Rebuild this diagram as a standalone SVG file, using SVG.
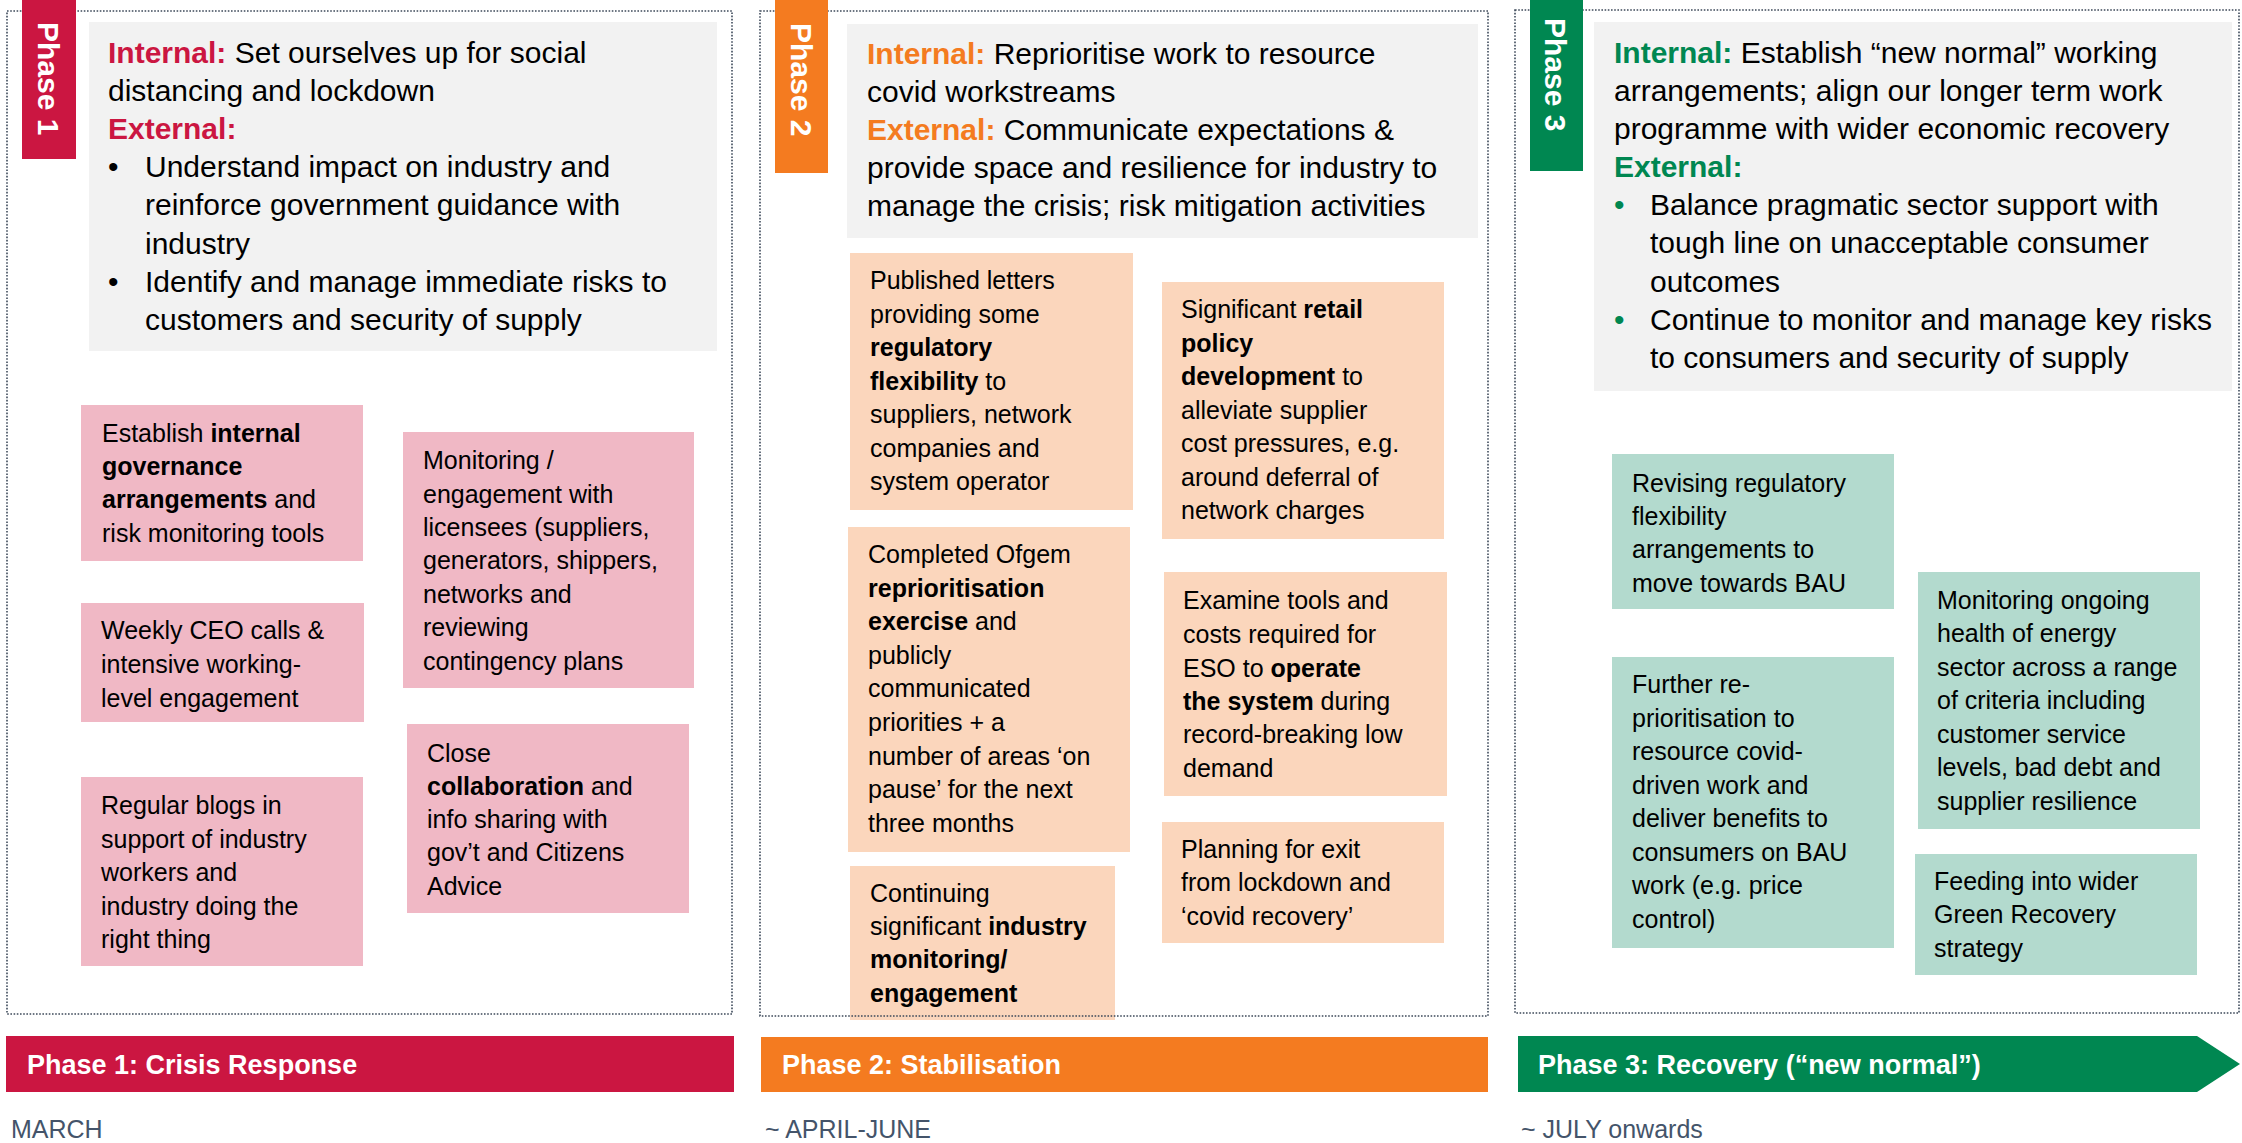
<svg xmlns="http://www.w3.org/2000/svg" width="2242" height="1143" viewBox="0 0 2242 1143">
<style>
text{font-family:"Liberation Sans",Arial,sans-serif;fill:#000}
.gt{font-size:30px}
.bt{font-size:25px}
.b{font-weight:bold}
.k1{font-weight:bold;fill:#CB1641}
.k2{font-weight:bold;fill:#F47B20}
.k3{font-weight:bold;fill:#008751}
.tab{font-size:30px;font-weight:bold;fill:#fff}
.ban{font-size:27px;font-weight:bold;fill:#fff}
.date{font-size:25px;fill:#44546A}
.panel{fill:none;stroke:#3E4A5A;stroke-width:1.6;stroke-dasharray:1.6 1.6}
.gray{fill:#F2F2F2}
.pink{fill:#F0B8C5}
.peach{fill:#FBD6BC}
.mint{fill:#B3DACE}
</style>
<rect width="2242" height="1143" fill="#fff"/>

<!-- Phase 1 -->
<g id="phase1-summary">
<rect class="gray" x="89" y="22" width="628" height="329"/>
<text class="gt" x="108" y="63"><tspan class="k1">Internal:</tspan> Set ourselves up for social</text>
<text class="gt" x="108" y="101">distancing and lockdown</text>
<text class="gt" x="108" y="139"><tspan class="k1">External:</tspan></text>
<text class="gt" x="108" y="177">•</text>
<text class="gt" x="145" y="177">Understand impact on industry and</text>
<text class="gt" x="145" y="215">reinforce government guidance with</text>
<text class="gt" x="145" y="254">industry</text>
<text class="gt" x="108" y="292">•</text>
<text class="gt" x="145" y="292">Identify and manage immediate risks to</text>
<text class="gt" x="145" y="330">customers and security of supply</text>
</g>
<g id="p1-governance">
<rect class="pink" x="81" y="405" width="282" height="156"/>
<text class="bt" x="102" y="442">Establish <tspan class="b">internal</tspan></text>
<text class="bt b" x="102" y="475">governance</text>
<text class="bt" x="102" y="508"><tspan class="b">arrangements</tspan> and</text>
<text class="bt" x="102" y="542">risk monitoring tools</text>
</g>
<g id="p1-monitoring">
<rect class="pink" x="403" y="432" width="291" height="256"/>
<text class="bt" x="423" y="469">Monitoring /</text>
<text class="bt" x="423" y="503">engagement with</text>
<text class="bt" x="423" y="536">licensees (suppliers,</text>
<text class="bt" x="423" y="569">generators, shippers,</text>
<text class="bt" x="423" y="603">networks and</text>
<text class="bt" x="423" y="636">reviewing</text>
<text class="bt" x="423" y="670">contingency plans</text>
</g>
<g id="p1-ceo-calls">
<rect class="pink" x="81" y="603" width="283" height="119"/>
<text class="bt" x="101" y="639">Weekly CEO calls &amp;</text>
<text class="bt" x="101" y="673">intensive working-</text>
<text class="bt" x="101" y="707">level engagement</text>
</g>
<g id="p1-collaboration">
<rect class="pink" x="407" y="724" width="282" height="189"/>
<text class="bt" x="427" y="762">Close</text>
<text class="bt" x="427" y="795"><tspan class="b">collaboration</tspan> and</text>
<text class="bt" x="427" y="828">info sharing with</text>
<text class="bt" x="427" y="861">gov’t and Citizens</text>
<text class="bt" x="427" y="895">Advice</text>
</g>
<g id="p1-blogs">
<rect class="pink" x="81" y="777" width="282" height="189"/>
<text class="bt" x="101" y="814">Regular blogs in</text>
<text class="bt" x="101" y="848">support of industry</text>
<text class="bt" x="101" y="881">workers and</text>
<text class="bt" x="101" y="915">industry doing the</text>
<text class="bt" x="101" y="948">right thing</text>
</g>

<!-- Phase 2 -->
<g id="phase2-summary">
<rect class="gray" x="847" y="24" width="631" height="214"/>
<text class="gt" x="867" y="64"><tspan class="k2">Internal:</tspan> Reprioritise work to resource</text>
<text class="gt" x="867" y="102">covid workstreams</text>
<text class="gt" x="867" y="140"><tspan class="k2">External:</tspan> Communicate expectations &amp;</text>
<text class="gt" x="867" y="178">provide space and resilience for industry to</text>
<text class="gt" x="867" y="216">manage the crisis; risk mitigation activities</text>
</g>
<g id="p2-letters">
<rect class="peach" x="850" y="253" width="283" height="257"/>
<text class="bt" x="870" y="289">Published letters</text>
<text class="bt" x="870" y="323">providing some</text>
<text class="bt b" x="870" y="356">regulatory</text>
<text class="bt" x="870" y="390"><tspan class="b">flexibility</tspan> to</text>
<text class="bt" x="870" y="423">suppliers, network</text>
<text class="bt" x="870" y="457">companies and</text>
<text class="bt" x="870" y="490">system operator</text>
</g>
<g id="p2-retail">
<rect class="peach" x="1162" y="282" width="282" height="257"/>
<text class="bt" x="1181" y="318">Significant <tspan class="b">retail</tspan></text>
<text class="bt b" x="1181" y="352">policy</text>
<text class="bt" x="1181" y="385"><tspan class="b">development</tspan> to</text>
<text class="bt" x="1181" y="419">alleviate supplier</text>
<text class="bt" x="1181" y="452">cost pressures, e.g.</text>
<text class="bt" x="1181" y="486">around deferral of</text>
<text class="bt" x="1181" y="519">network charges</text>
</g>
<g id="p2-reprioritisation">
<rect class="peach" x="848" y="527" width="282" height="325"/>
<text class="bt" x="868" y="563">Completed Ofgem</text>
<text class="bt b" x="868" y="597">reprioritisation</text>
<text class="bt" x="868" y="630"><tspan class="b">exercise</tspan> and</text>
<text class="bt" x="868" y="664">publicly</text>
<text class="bt" x="868" y="697">communicated</text>
<text class="bt" x="868" y="731">priorities + a</text>
<text class="bt" x="868" y="765">number of areas ‘on</text>
<text class="bt" x="868" y="798">pause’ for the next</text>
<text class="bt" x="868" y="832">three months</text>
</g>
<g id="p2-operate">
<rect class="peach" x="1164" y="572" width="283" height="224"/>
<text class="bt" x="1183" y="609">Examine tools and</text>
<text class="bt" x="1183" y="643">costs required for</text>
<text class="bt" x="1183" y="677">ESO to <tspan class="b">operate</tspan></text>
<text class="bt" x="1183" y="710"><tspan class="b">the system</tspan> during</text>
<text class="bt" x="1183" y="743">record-breaking low</text>
<text class="bt" x="1183" y="777">demand</text>
</g>
<g id="p2-exit">
<rect class="peach" x="1162" y="822" width="282" height="121"/>
<text class="bt" x="1181" y="858">Planning for exit</text>
<text class="bt" x="1181" y="891">from lockdown and</text>
<text class="bt" x="1181" y="925">‘covid recovery’</text>
</g>
<g id="p2-industry">
<rect class="peach" x="850" y="866" width="265" height="154"/>
<text class="bt" x="870" y="902">Continuing</text>
<text class="bt" x="870" y="935">significant <tspan class="b">industry</tspan></text>
<text class="bt b" x="870" y="968">monitoring/</text>
<text class="bt b" x="870" y="1002">engagement</text>
</g>

<!-- Phase 3 -->
<g id="phase3-summary">
<rect class="gray" x="1594" y="22" width="638" height="369"/>
<text class="gt" x="1614" y="63"><tspan class="k3">Internal:</tspan> Establish “new normal” working</text>
<text class="gt" x="1614" y="101">arrangements; align our longer term work</text>
<text class="gt" x="1614" y="139">programme with wider economic recovery</text>
<text class="gt" x="1614" y="177"><tspan class="k3">External:</tspan></text>
<text class="gt" x="1614" y="215" style="fill:#008751">•</text>
<text class="gt" x="1650" y="215">Balance pragmatic sector support with</text>
<text class="gt" x="1650" y="253">tough line on unacceptable consumer</text>
<text class="gt" x="1650" y="292">outcomes</text>
<text class="gt" x="1614" y="330" style="fill:#008751">•</text>
<text class="gt" x="1650" y="330">Continue to monitor and manage key risks</text>
<text class="gt" x="1650" y="368">to consumers and security of supply</text>
</g>
<g id="p3-revising">
<rect class="mint" x="1612" y="454" width="282" height="155"/>
<text class="bt" x="1632" y="492">Revising regulatory</text>
<text class="bt" x="1632" y="525">flexibility</text>
<text class="bt" x="1632" y="558">arrangements to</text>
<text class="bt" x="1632" y="592">move towards BAU</text>
</g>
<g id="p3-monitoring">
<rect class="mint" x="1918" y="572" width="282" height="257"/>
<text class="bt" x="1937" y="609">Monitoring ongoing</text>
<text class="bt" x="1937" y="642">health of energy</text>
<text class="bt" x="1937" y="676">sector across a range</text>
<text class="bt" x="1937" y="709">of criteria including</text>
<text class="bt" x="1937" y="743">customer service</text>
<text class="bt" x="1937" y="776">levels, bad debt and</text>
<text class="bt" x="1937" y="810">supplier resilience</text>
</g>
<g id="p3-reprioritisation">
<rect class="mint" x="1612" y="657" width="282" height="291"/>
<text class="bt" x="1632" y="693">Further re-</text>
<text class="bt" x="1632" y="727">prioritisation to</text>
<text class="bt" x="1632" y="760">resource covid-</text>
<text class="bt" x="1632" y="794">driven work and</text>
<text class="bt" x="1632" y="827">deliver benefits to</text>
<text class="bt" x="1632" y="861">consumers on BAU</text>
<text class="bt" x="1632" y="894">work (e.g. price</text>
<text class="bt" x="1632" y="928">control)</text>
</g>
<g id="p3-green">
<rect class="mint" x="1915" y="854" width="282" height="121"/>
<text class="bt" x="1934" y="890">Feeding into wider</text>
<text class="bt" x="1934" y="923">Green Recovery</text>
<text class="bt" x="1934" y="957">strategy</text>
</g>

<!-- panel borders -->
<g id="panels">
<rect class="panel" x="7" y="11" width="725" height="1003"/>
<rect class="panel" x="760" y="11" width="728" height="1005"/>
<rect class="panel" x="1515" y="10" width="724" height="1003"/>
</g>

<!-- tabs -->
<g id="tab1">
<rect x="22" y="0" width="54" height="159" fill="#CB1641"/>
<text class="tab" transform="translate(38,22) rotate(90)">Phase 1</text>
</g>
<g id="tab2">
<rect x="775" y="0" width="53" height="173" fill="#F47B20"/>
<text class="tab" transform="translate(791,23) rotate(90)">Phase 2</text>
</g>
<g id="tab3">
<rect x="1530" y="0" width="53" height="171" fill="#008751"/>
<text class="tab" transform="translate(1545,18) rotate(90)">Phase 3</text>
</g>

<!-- banners -->
<g id="banner1">
<rect x="6" y="1036" width="728" height="56" fill="#CB1641"/>
<text class="ban" x="27" y="1074">Phase 1: Crisis Response</text>
</g>
<g id="banner2">
<rect x="761" y="1037" width="727" height="55" fill="#F47B20"/>
<text class="ban" x="782" y="1074">Phase 2: Stabilisation</text>
</g>
<g id="banner3">
<polygon points="1518,1036 2197,1036 2240,1064 2197,1092 1518,1092" fill="#008751"/>
<text class="ban" x="1538" y="1074">Phase 3: Recovery (“new normal”)</text>
</g>

<g id="dates">
<text class="date" x="11" y="1138">MARCH</text>
<text class="date" x="765" y="1138">~ APRIL-JUNE</text>
<text class="date" x="1521" y="1138">~ JULY onwards</text>
</g>
<g id="connectors"></g>
</svg>
